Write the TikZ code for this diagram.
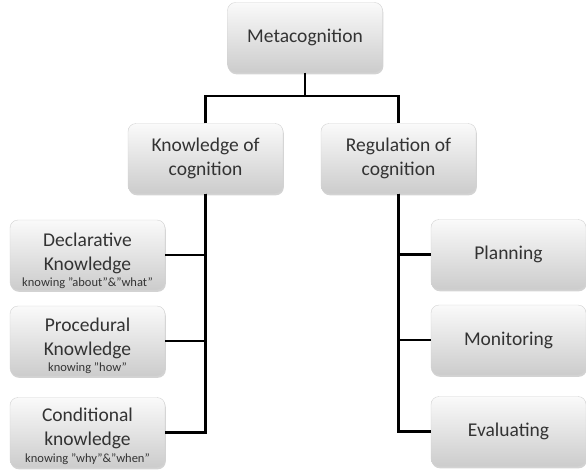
\documentclass[tikz,border=0pt]{standalone}
\usepackage{fontspec}
\setmainfont{Carlito}
\usetikzlibrary{shadows}
\definecolor{txt}{HTML}{333333}
\tikzset{
  box/.style={rounded corners=8pt, top color=gray!4, middle color=gray!17, bottom color=gray!40,
    draw=gray!35, line width=0.4pt, text=txt, align=center,
    minimum width=155pt, minimum height=70pt, inner sep=0pt,
    font=\fontsize{19.5}{23.5}\selectfont,
    drop shadow={shadow xshift=0.8pt, shadow yshift=-1.8pt, opacity=0.35, fill=gray}},
  boxtext/.style={text=txt, align=center, inner sep=0pt, font=\fontsize{19.5}{24}\selectfont},
  conn/.style={draw=black, line width=2.3pt}
}
\newcommand{\smalltxt}[1]{{\fontsize{12.5}{13}\selectfont #1}}
\begin{document}
\begin{tikzpicture}[x=1pt,y=-1pt]
\useasboundingbox (0,0) rectangle (586,469);
\node[box] (meta) at (305,37.5) {Metacognition};
\node[box] (know) at (205.5,158.5) {Knowledge of\\cognition};
\node[box] (reg) at (398.5,158.5) {Regulation of\\cognition};
\node[box] (decl) at (87.5,255) {};
\node[boxtext] (declt) at ([yshift=-6pt]decl.center) {Declarative\\Knowledge\\[-8pt]\smalltxt{knowing "about"\&"what"}};
\node[box] (proc) at (87.5,341) {};
\node[boxtext] (proct) at ([yshift=-5pt]proc.center) {Procedural\\Knowledge\\[-8pt]\smalltxt{knowing "how"}};
\node[box] (cond) at (87.5,432.5) {};
\node[boxtext] (condt) at ([yshift=-4pt]cond.center) {Conditional\\knowledge\\[-7pt]\smalltxt{knowing "why"\&"when"}};
\node[box] (plan) at (508.5,254.5) {Planning};
\node[box] (moni) at (508.5,340) {Monitoring};
\node[box] (eval) at (508.5,431.5) {Evaluating};
\coordinate (j) at (305,96);
\draw[conn] (meta.south) -- (j);
\draw[conn] (know.north) |- (j) -| (reg.north);
\draw[conn] (know.south) |- (decl.east);
\draw[conn] (know.south) |- (proc.east);
\draw[conn] (know.south) |- (cond.east);
\draw[conn] (reg.south) |- (plan.west);
\draw[conn] (reg.south) |- (moni.west);
\draw[conn] (reg.south) |- (eval.west);
\end{tikzpicture}
\end{document}
